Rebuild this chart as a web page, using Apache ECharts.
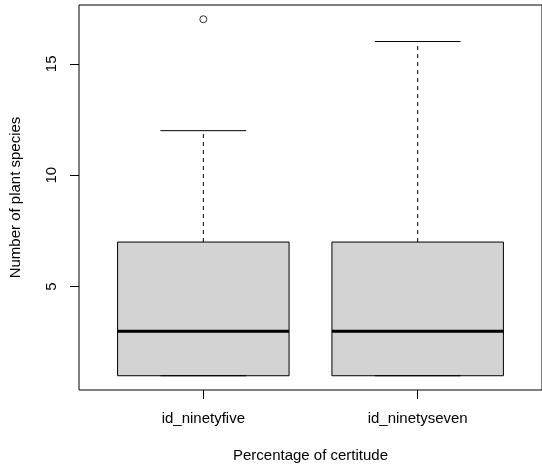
<!DOCTYPE html>
<html>
<head>
<meta charset="utf-8">
<script src="https://cdn.jsdelivr.net/npm/echarts@6/dist/echarts.min.js"></script>
<style>
  html, body { margin: 0; padding: 0; background: #fff; }
  #main { width: 542px; height: 468px; }
</style>
</head>
<body>
<div id="main"></div>
<script>
// boxplot stats
var categories = ['id_ninetyfive', 'id_ninetyseven'];
var lowerWhisker = [1, 1];
var lowerQuartile = [1, 1];
var medians = [3, 3];
var upperQuartile = [7, 7];
var upperWhisker = [12, 16];
var outliers = [[17], []];
var yTicks = [5, 10, 15];

var boxData = [];
var outlierData = [];
for (var i = 0; i < categories.length; i++) {
    boxData.push([i, lowerWhisker[i], lowerQuartile[i], medians[i], upperQuartile[i], upperWhisker[i]]);
    for (var j = 0; j < outliers[i].length; j++) {
        outlierData.push([i, outliers[i][j]]);
    }
}

function renderBox(params, api) {
    var x = api.value(0);
    var lo = api.coord([x, api.value(1)]);
    var q1 = api.coord([x, api.value(2)]);
    var md = api.coord([x, api.value(3)]);
    var q3 = api.coord([x, api.value(4)]);
    var hi = api.coord([x, api.value(5)]);
    var w = api.size([0.8, 0])[0];
    var half = w / 2, cap = w / 4;
    var line = function (x1, y1, x2, y2, lw, dash) {
        return {
            type: 'line',
            shape: { x1: x1, y1: y1, x2: x2, y2: y2 },
            style: { stroke: '#000', lineWidth: lw, lineDash: dash || null }
        };
    };
    return {
        type: 'group',
        children: [
            line(hi[0], q3[1], hi[0], hi[1], 1, [4, 4]),
            line(lo[0], q1[1], lo[0], lo[1], 1, [4, 4]),
            {
                type: 'rect',
                shape: { x: q1[0] - half, y: q3[1], width: w, height: q1[1] - q3[1] },
                style: { fill: '#d3d3d3', stroke: '#000', lineWidth: 1 }
            },
            line(hi[0] - cap, hi[1], hi[0] + cap, hi[1], 1),
            line(lo[0] - cap, lo[1], lo[0] + cap, lo[1], 1),
            line(md[0] - half, md[1], md[0] + half, md[1], 3)
        ]
    };
}

var chart = echarts.init(document.getElementById('main'));
var option = {
    animation: false,
    textStyle: { fontFamily: 'Liberation Sans' },
    grid: {
        left: 79, top: 5, right: -3, bottom: 78,
        show: true, borderColor: '#000', borderWidth: 1
    },
    xAxis: {
        type: 'value',
        min: -0.58,
        max: 1.58,
        splitLine: { show: false },
        axisLine: { show: false, onZero: false },
        axisTick: { show: true, length: 9, customValues: [0, 1], lineStyle: { color: '#000' } },
        axisLabel: {
            customValues: [0, 1],
            margin: 21,
            fontSize: 15,
            color: '#000',
            formatter: function (v) { return categories[Math.round(v)]; }
        },
        name: 'Percentage of certitude',
        nameLocation: 'middle',
        nameGap: 58,
        nameTextStyle: { fontSize: 15, color: '#000' }
    },
    yAxis: {
        type: 'value',
        min: 0.36,
        max: 17.64,
        splitLine: { show: false },
        axisLine: { show: false, onZero: false },
        axisTick: { show: true, length: 9, customValues: yTicks, lineStyle: { color: '#000' } },
        axisLabel: {
            customValues: yTicks,
            rotate: 90,
            margin: 20,
            fontSize: 15,
            color: '#000'
        },
        name: 'Number of plant species',
        nameLocation: 'middle',
        nameGap: 56,
        nameTextStyle: { fontSize: 15, color: '#000' }
    },
    series: [
        {
            type: 'custom',
            renderItem: renderBox,
            encode: { x: 0, y: [1, 2, 3, 4, 5] },
            data: boxData
        },
        {
            type: 'scatter',
            symbol: 'circle',
            symbolSize: 7,
            itemStyle: { color: '#fff', borderColor: '#000', borderWidth: 1 },
            data: outlierData
        }
    ]
};
chart.setOption(option);
</script>
</body>
</html>
